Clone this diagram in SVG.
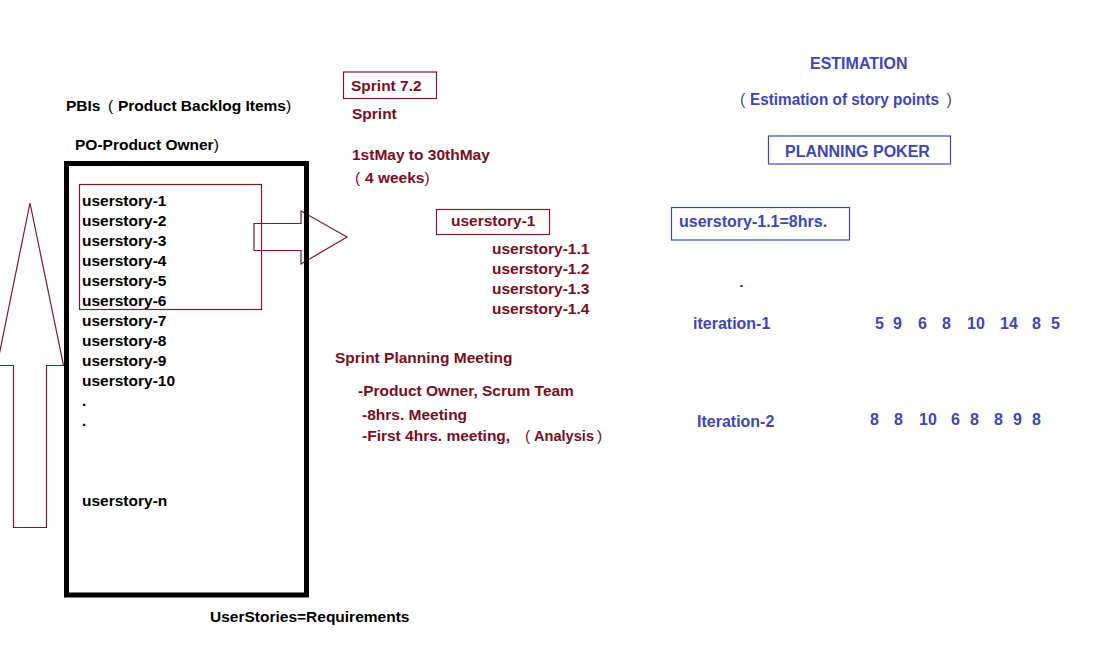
<svg xmlns="http://www.w3.org/2000/svg" width="1094" height="646" viewBox="0 0 1094 646">
<style>
text{font-family:"Liberation Sans",Arial,sans-serif;font-weight:bold;font-size:15.5px;white-space:pre}
.k{fill:#000}
.m{fill:#7b0d1e}
.b{fill:#4046b8;font-size:16px}
.thin{font-weight:normal}
.mbox{fill:none;stroke:#7b1a2a;stroke-width:1.2}
.bbox{fill:none;stroke:#4046b8;stroke-width:1.2}
</style>
<rect width="1094" height="646" fill="#fff"/>
<g id="connectors">
<polygon class="mbox" points="254,223.5 301,223.5 301,211 347,237 301,264 301,250.5 254,250.5"/>
<polygon class="mbox" points="13.5,527.5 13.5,365.5 -3,365.5 30,203 63.5,365.5 46.5,365.5 46.5,527.5"/>
</g>
<g id="pbi-header">
<text class="k" x="66" y="111">PBIs <tspan class="thin" x="108">(</tspan><tspan x="118">Product Backlog Items</tspan><tspan class="thin">)</tspan></text>
<text class="k" x="75" y="150">PO-Product Owner<tspan class="thin">)</tspan></text>
</g>
<g id="backlog">
<rect x="66.5" y="163.5" width="240" height="431.5" fill="none" stroke="#000" stroke-width="5"/>
<text class="k" x="82" y="206">userstory-1</text>
<text class="k" x="82" y="226">userstory-2</text>
<text class="k" x="82" y="246">userstory-3</text>
<text class="k" x="82" y="266">userstory-4</text>
<text class="k" x="82" y="286">userstory-5</text>
<text class="k" x="82" y="306">userstory-6</text>
<text class="k" x="82" y="326">userstory-7</text>
<text class="k" x="82" y="346">userstory-8</text>
<text class="k" x="82" y="366">userstory-9</text>
<text class="k" x="82" y="386">userstory-10</text>
<text class="k" x="82" y="406">.</text>
<text class="k" x="82" y="426">.</text>
<text class="k" x="82" y="506">userstory-n</text>
</g>
<g id="selected-stories">
<rect class="mbox" x="79.5" y="184.5" width="182" height="125"/>
</g>
<g id="caption">
<text class="k" x="210" y="622">UserStories=Requirements</text>
</g>
<g id="sprint">
<rect class="mbox" x="343.5" y="72" width="93" height="26.5"/>
<text class="m" x="351" y="91">Sprint 7.2</text>
<text class="m" x="352" y="119">Sprint</text>
<text class="m" x="352" y="160">1stMay to 30thMay</text>
<text class="m" x="355" y="183"><tspan class="thin">(</tspan><tspan x="365">4 weeks</tspan><tspan class="thin">)</tspan></text>
</g>
<g id="story-1">
<rect class="mbox" x="436.5" y="209.5" width="113" height="25"/>
<text class="m" x="451" y="226">userstory-1</text>
<text class="m" x="492" y="254">userstory-1.1</text>
<text class="m" x="492" y="274">userstory-1.2</text>
<text class="m" x="492" y="294">userstory-1.3</text>
<text class="m" x="492" y="314">userstory-1.4</text>
</g>
<g id="planning-meeting">
<text class="m" x="335" y="363">Sprint Planning Meeting</text>
<text class="m" x="358" y="396">-Product Owner, Scrum Team</text>
<text class="m" x="362" y="420">-8hrs. Meeting</text>
<text class="m" x="362" y="441">-First 4hrs. meeting,<tspan class="thin" x="525">(</tspan><tspan x="534" textLength="60" lengthAdjust="spacingAndGlyphs">Analysis</tspan><tspan class="thin" x="597">)</tspan></text>
</g>
<g id="estimation">
<text class="b" x="810" y="69">ESTIMATION</text>
<text class="b" x="740" y="105"><tspan class="thin">(</tspan><tspan x="750" textLength="189" lengthAdjust="spacingAndGlyphs">Estimation of story points</tspan><tspan class="thin" x="946.5">)</tspan></text>
</g>
<g id="planning-poker">
<rect class="bbox" x="768.5" y="136" width="182" height="28"/>
<text class="b" x="785" y="157">PLANNING POKER</text>
</g>
<g id="story-estimate">
<rect class="bbox" x="671.5" y="207.5" width="178" height="32.5"/>
<text class="b" x="679" y="227">userstory-1.1=8hrs.</text>
<rect x="740.5" y="285" width="2" height="2" fill="#5a0a14"/>
</g>
<g id="iteration-1">
<text class="b" x="693" y="329">iteration-1</text>
<text class="b" y="329"><tspan x="875">5</tspan><tspan x="893">9</tspan><tspan x="918">6</tspan><tspan x="942">8</tspan><tspan x="967">10</tspan><tspan x="1000">14</tspan><tspan x="1032">8</tspan><tspan x="1051">5</tspan></text>
</g>
<g id="iteration-2">
<text class="b" x="697" y="427">Iteration-2</text>
<text class="b" y="425"><tspan x="870">8</tspan><tspan x="894">8</tspan><tspan x="919">10</tspan><tspan x="951">6</tspan><tspan x="970">8</tspan><tspan x="994">8</tspan><tspan x="1013">9</tspan><tspan x="1032">8</tspan></text>
</g>
</svg>
